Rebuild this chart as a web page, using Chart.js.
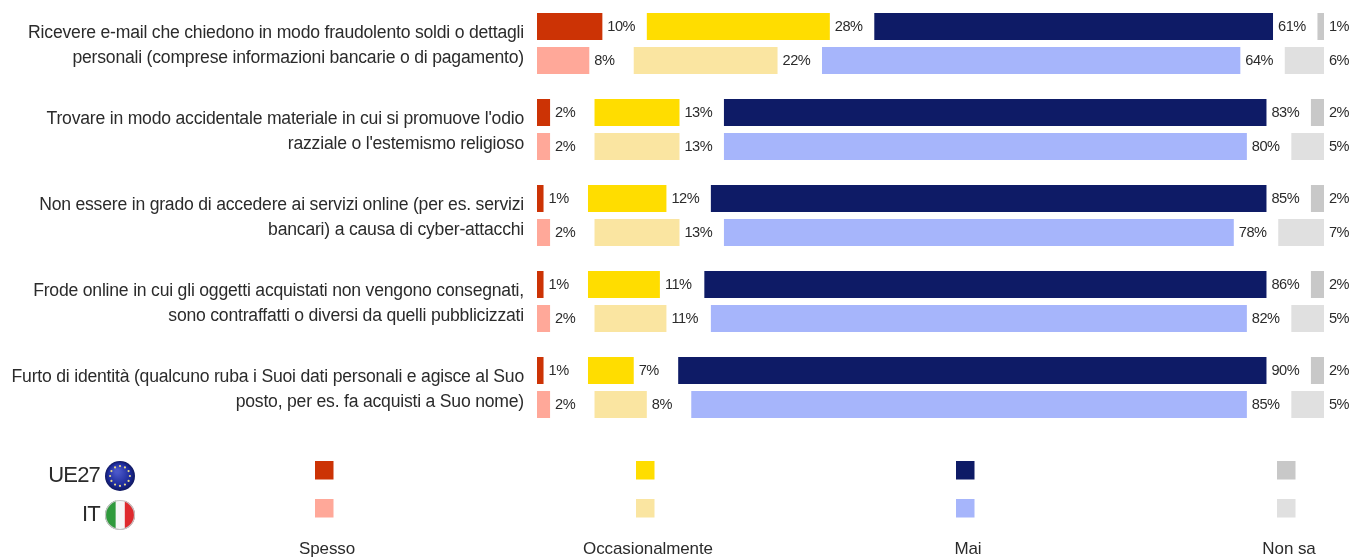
<!DOCTYPE html>
<html lang="it"><head><meta charset="utf-8">
<style>html,body{margin:0;padding:0;background:#fff}#w{width:1351px;height:558px;position:relative}</style>
<script src="https://cdn.jsdelivr.net/npm/chart.js@4"></script></head>
<body><div id="w"><canvas id="c" width="1351" height="558"></canvas></div>
<script>
const categories = [
  ["Ricevere e-mail che chiedono in modo fraudolento soldi o dettagli","personali (comprese informazioni bancarie o di pagamento)"],
  ["Trovare in modo accidentale materiale in cui si promuove l'odio","razziale o l'estemismo religioso"],
  ["Non essere in grado di accedere ai servizi online (per es. servizi","bancari) a causa di cyber-attacchi"],
  ["Frode online in cui gli oggetti acquistati non vengono consegnati,","sono contraffatti o diversi da quelli pubblicizzati"],
  ["Furto di identità (qualcuno ruba i Suoi dati personali e agisce al Suo","posto, per es. fa acquisti a Suo nome)"]
];
const legendNames = ["Spesso","Occasionalmente","Mai","Non sa"];
const spessoEU = [10,2,1,1,1];
const occasEU  = [28,13,12,11,7];
const maiEU    = [61,83,85,86,90];
const nonsaEU  = [1,2,2,2,2];
const spessoIT = [8,2,2,2,2];
const occasIT  = [22,13,13,11,8];
const maiIT    = [64,80,78,82,85];
const nonsaIT  = [6,5,7,5,5];
const colorsEU = ["#CC3305","#FFDD00","#0E1B66","#C8C8C8"];
const colorsIT = ["#FFA899","#FAE5A1","#A6B5FB","#E0E0E0"];
const GAP = 6.8;
const FONT = '"Liberation Sans", Arial, sans-serif';
const TXT = '#2b2b2b';

function seriesFor(stack, arrays, colors){
  const out=[];
  arrays.forEach((a,i)=>{
    out.push({label:legendNames[i]+' '+stack,data:a,stack,backgroundColor:colors[i],isValue:true});
    if(i<arrays.length-1) out.push({label:'spazio',data:a.map(()=>GAP),stack,backgroundColor:'rgba(0,0,0,0)',isValue:false});
  });
  return out;
}
const datasets=[...seriesFor('UE27',[spessoEU,occasEU,maiEU,nonsaEU],colorsEU),...seriesFor('IT',[spessoIT,occasIT,maiIT,nonsaIT],colorsIT)];

const valueLabels={id:'valueLabels',afterDatasetsDraw(ch){
  const c=ch.ctx;c.save();c.font='14.6px '+FONT;c.fillStyle=TXT;c.textBaseline='middle';c.textAlign='left';
  c.letterSpacing='-0.5px';
  ch.data.datasets.forEach((d,di)=>{ if(!d.isValue)return;
    ch.getDatasetMeta(di).data.forEach((b,i)=>{c.fillText(d.data[i]+'%',b.x+5,b.y);});
  });
  c.restore();
}};

const legendCols=[315,636,956,1277];
function euFlag(c,x,y,r){
  const g=c.createRadialGradient(x-3,y-5,2,x,y,r);g.addColorStop(0,'#4a57c8');g.addColorStop(.7,'#1c2a9a');g.addColorStop(1,'#10185f');
  c.fillStyle=g;c.beginPath();c.arc(x,y,r,0,Math.PI*2);c.fill();
  c.fillStyle='#e8d98a';
  for(let i=0;i<12;i++){const a=i*Math.PI/6;c.beginPath();c.arc(x+Math.cos(a)*r*.66,y+Math.sin(a)*r*.66,1.1,0,Math.PI*2);c.fill();}
}
function itFlag(c,x,y,r){
  c.save();c.beginPath();c.arc(x,y,r,0,Math.PI*2);c.clip();
  c.fillStyle='#2f9a3c';c.fillRect(x-r,y-r,2*r*.36,2*r);
  c.fillStyle='#f6f6f6';c.fillRect(x-r+2*r*.36,y-r,2*r*.3,2*r);
  c.fillStyle='#df2a2e';c.fillRect(x-r+2*r*.66,y-r,2*r*.34,2*r);
  c.restore();
  c.strokeStyle='#c4c4c4';c.lineWidth=1.2;c.beginPath();c.arc(x,y,r-.5,0,Math.PI*2);c.stroke();
}
const bottomLegend={id:'bottomLegend',afterDraw(ch){
  const c=ch.ctx;c.save();
  c.letterSpacing='-0.1px';
  legendCols.forEach((x,i)=>{
    c.fillStyle=colorsEU[i];c.fillRect(x,461,18.5,18.5);
    c.fillStyle=colorsIT[i];c.fillRect(x,499,18.5,18.5);
    c.fillStyle=TXT;c.font='17px '+FONT;c.textAlign='center';c.textBaseline='middle';
    c.fillText(legendNames[i],x+12,549);
  });
  c.fillStyle=TXT;c.font='22px '+FONT;c.textAlign='right';c.textBaseline='middle';
  c.letterSpacing='-0.8px';
  c.fillText('UE27',100,476);c.fillText('IT',100,515);
  c.letterSpacing='0px';
  euFlag(c,120,476,15);itFlag(c,120,515,15);
  c.restore();
}};

new Chart(document.getElementById('c'),{
  type:'bar',
  data:{labels:categories,datasets},
  plugins:[valueLabels,bottomLegend,{id:'spacing',beforeDraw(ch){ch.ctx.letterSpacing='-0.21px';}}],
  options:{
    responsive:false,animation:false,indexAxis:'y',
    layout:{padding:{top:0.5,bottom:127.5,left:0,right:27}},
    plugins:{legend:{display:false},tooltip:{enabled:false}},
    datasets:{bar:{categoryPercentage:0.79,barPercentage:0.79,borderWidth:0}},
    scales:{
      x:{display:false,stacked:true,min:0,max:100+3*GAP},
      y:{stacked:true,grid:{display:false,drawTicks:false},border:{display:false},
        afterFit(s){s.width=537;s.paddingTop=0;s.paddingBottom=0;},
        ticks:{padding:13,labelOffset:2.5,color:TXT,autoSkip:false,font:{family:FONT,size:17.6,lineHeight:1.41}}}
    }
  }
});
</script></body></html>
